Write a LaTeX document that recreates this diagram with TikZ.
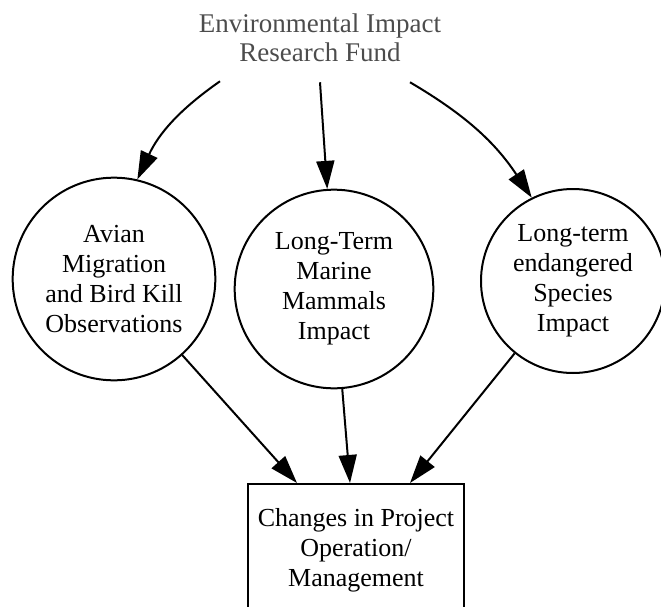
\documentclass[tikz,border=0pt]{standalone}
\usepackage{fontspec}
\setmainfont{Liberation Serif}
\usetikzlibrary{arrows.meta,calc}

\begin{document}
\begin{tikzpicture}[x=0.75pt,y=-0.75pt,
  bubble/.style={draw,circle,line width=1.5pt,align=center,inner sep=0pt,
    font=\fontsize{19.5pt}{22.5pt}\selectfont},
  link/.style={-{Triangle[length=21pt,width=13.5pt]},line width=1.5pt}]
\clip (0,0) rectangle (661,607);

\node[align=center,inner sep=0pt,text=black!70,
  font=\fontsize{20.25pt}{21.75pt}\selectfont] (fund) at (320,38)
  {Environmental Impact\\Research Fund};

\node[bubble,minimum size=152pt] (avian) at (114,279) {Avian\\Migration\\and Bird Kill\\Observations};
\node[bubble,minimum size=149pt] (marine) at (334,289) {Long-Term\\Marine\\Mammals\\Impact};
\node[bubble,minimum size=138pt] (species) at (573,281) {Long-term\\endangered\\Species\\Impact};

\node[draw,line width=1.5pt,anchor=north,minimum width=162pt,inner ysep=18pt,align=center,
  font=\fontsize{19.5pt}{22.5pt}\selectfont] (changes) at (356,483)
  {Changes in Project\\Operation/\\Management};

\draw[link] ($(fund.south)+(-100,19)$) to[bend right=15] (avian);
\draw[link] ($(fund.south)+(0,20)$) -- (marine);
\draw[link] ($(fund.south)+(90,20)$) to[bend left=13] (species);

\draw[link] (avian) -- ($(changes.north)+(-59,0)$);
\draw[link] (marine) -- ($(changes.north)+(-6,0)$);
\draw[link] (species) -- ($(changes.north)+(54,0)$);
\end{tikzpicture}
\end{document}
